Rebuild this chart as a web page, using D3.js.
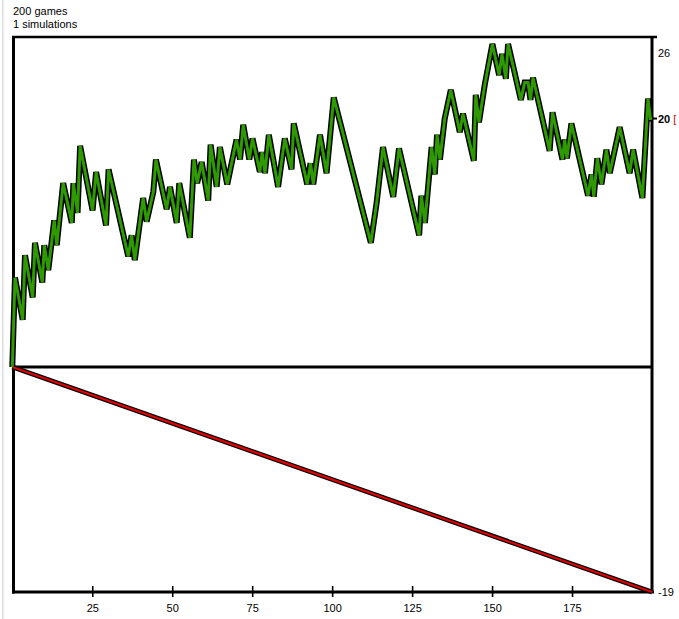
<!DOCTYPE html>
<html><head><meta charset="utf-8">
<script src="https://cdn.jsdelivr.net/npm/d3@7"></script>
<style>
body{margin:0;background:#fff;}
svg{display:block;font-family:"Liberation Sans",Arial,sans-serif;}
</style></head>
<body>
<svg id="c" width="679" height="619"></svg>
<script>
// ---- data ----
const headerLines = ["200 games", "1 simulations"];
const xTicks = [25, 50, 75, 100, 125, 150, 175];
// turning points of the simulated balance (game index, balance)
const games = [0,0.84,3.25,3.97,6.38,7.09,9.38,10.0,11.25,13.1,13.9,15.9,18.6,19.1,20.4,21.2,25.1,26.2,29.3,30.1,
  36.25,37.3,38.3,40.9,42.0,44.1,44.9,48.25,49.3,51.4,52.2,55.5,56.8,57.8,59.2,61.25,62.0,63.9,64.9,67.2,
  70.1,71.2,72.2,74.1,75.1,77.4,78.1,79.0,80.2,83.1,85.2,87.3,88.0,92.2,93.25,94.1,96.2,98.25,99.1,100.5,
  112.1,113.9,115.9,119.1,120.9,127.2,127.9,129.0,131.1,132.1,132.8,133.7,135.2,137.1,139.9,140.9,144.3,144.9,145.9,147.7,
  150.1,152.2,153.1,154.3,155.0,159.0,160.2,161.25,162.0,162.8,168.0,168.9,172.0,172.7,173.4,174.8,180.0,181.1,181.8,182.9,
  184.2,185.75,186.8,189.9,193.0,194.1,197.0,198.75,199.5,200];
const balance = [0,7.2,3.8,9.0,5.6,10.0,6.8,9.8,7.8,11.8,9.8,14.8,11.6,14.8,12.4,17.8,12.6,15.7,11.4,15.9,
  8.9,10.6,8.6,13.6,11.7,14.1,16.7,12.7,14.5,11.6,14.8,10.4,16.7,14.8,16.5,13.4,17.9,14.5,17.7,14.7,
  18.3,16.7,19.5,16.7,18.4,15.7,17.3,15.6,18.7,14.5,18.4,15.9,19.6,14.7,16.4,14.7,18.7,15.6,17.9,21.7,
  10.0,13.2,17.7,13.7,17.6,10.6,13.8,11.6,17.7,15.5,18.7,16.7,20.0,22.3,18.9,20.4,16.6,21.9,19.7,22.7,
  26.0,23.5,25.2,23.2,26.0,21.5,22.9,22.9,21.5,23.3,17.4,20.5,16.7,18.3,16.8,19.6,13.8,15.5,13.7,16.8,
  14.7,17.5,15.6,19.3,15.6,17.5,13.6,21.6,20.0,20.0];
const expGames = [0, 200];
const expected = [0, -19];
const maxVal = 26, finalVal = 20, minVal = -19;

// ---- drawing ----
const svg = d3.select("#c");
const x = d3.scaleLinear().domain([0, 200]).range([12.3, 652]);
const y = d3.scaleLinear().domain([minVal, 0, maxVal]).range([592, 367, 44]);

svg.append("rect").attr("x",2).attr("y",0).attr("width",1.5).attr("height",619).attr("fill","#dcdcdc");

svg.selectAll("text.hdr").data(headerLines).join("text")
  .attr("class","hdr").attr("x",13).attr("y",(d,i)=>15+i*13)
  .attr("font-size",11).attr("fill","#000").text(d=>d);

// frame
const frameTop = 37;
svg.append("line").attr("x1",12).attr("x2",657).attr("y1",frameTop).attr("y2",frameTop).attr("stroke","#000").attr("stroke-width",2.6);
svg.append("line").attr("x1",x(200)).attr("x2",x(200)).attr("y1",frameTop).attr("y2",y(minVal)).attr("stroke","#000").attr("stroke-width",3);
svg.append("line").attr("x1",13.5).attr("x2",13.5).attr("y1",frameTop-1).attr("y2",y(minVal)+1.5).attr("stroke","#000").attr("stroke-width",3);
svg.append("line").attr("x1",12).attr("x2",x(200)).attr("y1",y(0)).attr("y2",y(0)).attr("stroke","#000").attr("stroke-width",3);

// bottom axis
const ax = svg.append("g").attr("transform",`translate(0,${y(minVal)})`)
  .call(d3.axisBottom(x).tickValues(xTicks).tickSize(5).tickPadding(7).tickSizeOuter(0));
ax.select(".domain").remove();
ax.append("line").attr("x1",12).attr("x2",654).attr("y1",0).attr("y2",0).attr("stroke","#000").attr("stroke-width",3);
ax.selectAll(".tick line").attr("y1",-6).attr("y2",5).attr("stroke","#000").attr("stroke-width",1.6);
ax.selectAll(".tick text").attr("font-size",11).attr("font-family","'Liberation Sans',Arial,sans-serif").attr("fill","#000");

// expected (red) line
const line = d3.line().x(d=>x(d[0])).y(d=>y(d[1]));
const expPts = expGames.map((g,i)=>[g, expected[i]]);
svg.append("path").attr("d",line(expPts)).attr("fill","none").attr("stroke","#000").attr("stroke-width",4.6);
svg.append("path").attr("d",line(expPts)).attr("fill","none").attr("stroke","#e00000").attr("stroke-width",2.2);

// balance (green) line
const pts = games.map((g,i)=>[g, balance[i]]);
svg.append("path").attr("d",line(pts)).attr("fill","none").attr("stroke","#000").attr("stroke-width",6).attr("stroke-linejoin","miter");
svg.append("path").attr("d",line(pts)).attr("fill","none").attr("stroke","#2e9a00").attr("stroke-width",3).attr("stroke-linejoin","miter");

// right labels
svg.append("text").attr("x",658).attr("y",y(maxVal)+13).attr("font-size",11).attr("fill","#000").text(maxVal);
svg.append("line").attr("x1",x(200)).attr("x2",657).attr("y1",y(finalVal)).attr("y2",y(finalVal)).attr("stroke","#000").attr("stroke-width",2);
const fl = svg.append("text").attr("x",658).attr("y",y(finalVal)+4).attr("font-size",11).attr("font-weight","bold").attr("fill","#000");
fl.append("tspan").text(finalVal);
fl.append("tspan").attr("fill","#e00000").attr("font-weight","normal").text(" [");
svg.append("text").attr("x",658).attr("y",y(minVal)+4).attr("font-size",11).attr("fill","#000").text(minVal);
</script>
</body></html>
